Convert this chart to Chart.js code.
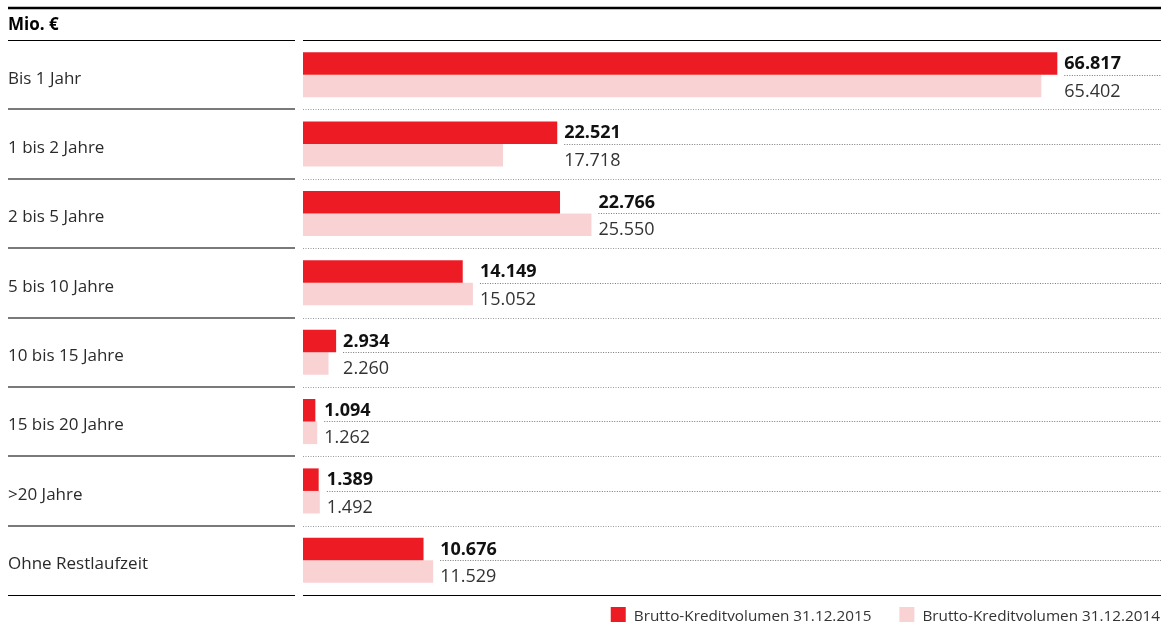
<!DOCTYPE html>
<html lang="de">
<head>
<meta charset="utf-8">
<title>Brutto-Kreditvolumen nach Restlaufzeit</title>
<script src="https://cdn.jsdelivr.net/npm/chart.js@4/dist/chart.umd.min.js"></script>
<style>
  html, body { margin: 0; padding: 0; background: #fff; }
  canvas { display: block; }
</style>
</head>
<body>
<canvas id="chartKredit" width="1161" height="626"></canvas>
<script>
// Restlaufzeiten
const categories = ["Bis 1 Jahr", "1 bis 2 Jahre", "2 bis 5 Jahre", "5 bis 10 Jahre",
  "10 bis 15 Jahre", "15 bis 20 Jahre", ">20 Jahre", "Ohne Restlaufzeit"];
const vol2015 = [66817, 22521, 22766, 14149, 2934, 1094, 1389, 10676];
const vol2014 = [65402, 17718, 25550, 15052, 2260, 1262, 1492, 11529];
const seriesNames = ["Brutto-Kreditvolumen 31.12.2015", "Brutto-Kreditvolumen 31.12.2014"];
const unitLabel = "Mio. €";

const RED = "#ed1c24";
const PINK = "#f9d3d4";
const FONT = "'Open Sans', 'Noto Sans', sans-serif";

function fmt(v) {
  return String(v).replace(/\B(?=(\d{3})+(?!\d))/g, ".");
}

function hline(ctx, x1, x2, y, color, width, dash) {
  ctx.save();
  ctx.strokeStyle = color;
  ctx.lineWidth = width;
  ctx.setLineDash(dash || []);
  ctx.beginPath();
  ctx.moveTo(x1, y);
  ctx.lineTo(x2, y);
  ctx.stroke();
  ctx.restore();
}

const tablePlugin = {
  id: "tablePlugin",
  afterDraw(chart) {
    const ctx = chart.ctx;
    const area = chart.chartArea;
    const x = chart.scales.x;
    const y = chart.scales.y;
    const rowH = (y.bottom - y.top) / categories.length;
    const W = chart.width;
    const leftEnd = 295;
    const plotStart = area.left;

    // Kopf
    hline(ctx, 8, W, 8, "#000", 2.5);
    ctx.save();
    ctx.fillStyle = "#000";
    ctx.font = "bold 17px " + FONT;
    ctx.textBaseline = "alphabetic";
    ctx.fillText(unitLabel, 8, 29.5);
    ctx.restore();
    hline(ctx, 8, leftEnd, area.top + 0.5, "#000", 1);
    hline(ctx, plotStart, W, area.top + 0.5, "#000", 1);

    categories.forEach((cat, i) => {
      const top = y.getPixelForValue(i) - rowH / 2;
      const bottom = top + rowH;

      ctx.save();
      ctx.fillStyle = "#2a2a2a";
      ctx.font = "17px " + FONT;
      ctx.fillText(cat, 8, top + 43.5);
      ctx.restore();

      if (i < categories.length - 1) {
        hline(ctx, 8, leftEnd, Math.round(bottom), "#7a7a7a", 2);
        hline(ctx, plotStart, W, Math.round(bottom) + 0.5, "#999", 1, [1, 1.5]);
      } else {
        hline(ctx, 8, leftEnd, Math.round(bottom) + 0.5, "#000", 1);
        hline(ctx, plotStart, W, Math.round(bottom) + 0.5, "#000", 1);
      }

      // Werte
      const endX = Math.max(x.getPixelForValue(vol2015[i]), x.getPixelForValue(vol2014[i]));
      const lx = endX + 7;
      ctx.save();
      ctx.fillStyle = "#111";
      ctx.font = "bold 18px " + FONT;
      ctx.fillText(fmt(vol2015[i]), lx, top + 29);
      ctx.fillStyle = "#333";
      ctx.font = "18px " + FONT;
      ctx.fillText(fmt(vol2014[i]), lx, top + 56.5);
      ctx.restore();
      hline(ctx, lx, W, Math.round(top + 34.5) + 0.5, "#777", 1, [1, 1.5]);
    });

    // Legende
    ctx.save();
    ctx.font = "15.3px " + FONT;
    ctx.fillStyle = "#333";
    const ds = chart.data.datasets;
    const box = 15, gapText = 8, gapItem = 28;
    let right = W - 1;
    const widths = ds.map(d => ctx.measureText(d.label).width);
    let pos = [];
    for (let k = ds.length - 1; k >= 0; k--) {
      const tx = right - widths[k];
      pos[k] = tx;
      right = tx - gapText - box - gapItem;
    }
    ds.forEach((d, k) => {
      const bx = pos[k] - gapText - box;
      ctx.fillStyle = d.backgroundColor;
      ctx.fillRect(bx, 607, box, box);
      ctx.fillStyle = "#333";
      ctx.fillText(d.label, pos[k], 620.5);
    });
    ctx.restore();
  }
};

new Chart(document.getElementById("chartKredit"), {
  type: "bar",
  data: {
    labels: categories,
    datasets: [
      { label: seriesNames[0], data: vol2015, backgroundColor: RED },
      { label: seriesNames[1], data: vol2014, backgroundColor: PINK }
    ]
  },
  options: {
    indexAxis: "y",
    responsive: false,
    animation: false,
    categoryPercentage: 0.65,
    barPercentage: 1.0,
    layout: { padding: { left: 303, top: 40, right: 0, bottom: 31 } },
    scales: {
      x: { display: false, min: 0, max: 76000 },
      y: { display: false }
    },
    plugins: {
      legend: { display: false },
      tooltip: { enabled: false }
    }
  },
  plugins: [tablePlugin]
});
</script>
</body>
</html>
